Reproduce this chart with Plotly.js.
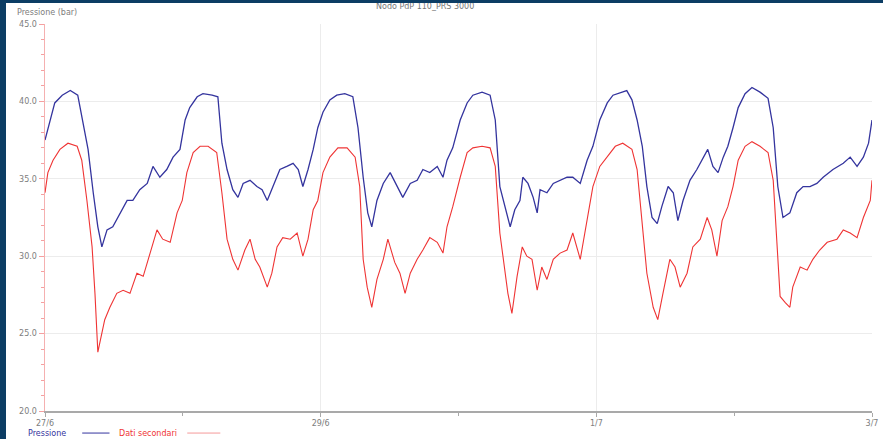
<!DOCTYPE html>
<html>
<head>
<meta charset="utf-8">
<script src="https://cdn.plot.ly/plotly-3.0.1.min.js"></script>
<style>
  html, body { margin:0; padding:0; width:883px; height:439px; overflow:hidden; background:#0c3d64; }
  #frame { position:absolute; left:6px; top:3px; width:877px; height:436px; background:#ffffff; }
  #chart { width:877px; height:436px; }
</style>
</head>
<body>
<div id="frame"><div id="chart"></div></div>
<script>
// Hours since 27/6 00:00
const pressureHours = [0,0.9,1.7,3.0,4.4,5.7,6.6,7.5,8.4,9.2,9.9,10.8,11.8,13.1,14.3,15.3,16.5,17.8,18.8,20.0,21.2,22.3,23.5,24.4,25.2,26.5,27.5,29.1,30.1,30.8,31.7,32.7,33.6,34.5,35.7,36.9,37.8,38.7,39.7,40.9,42.1,43.2,44.1,44.9,45.8,46.7,47.5,48.4,49.6,50.8,52.2,53.6,54.5,55.4,56.2,56.9,57.8,58.9,60.1,61.3,62.3,63.6,64.8,65.8,67.0,68.3,69.3,70.0,71.0,72.3,73.5,74.5,76.1,77.5,78.4,79.2,80.1,81.0,81.8,82.7,83.2,84.1,85.0,85.7,86.2,87.4,88.5,89.7,90.9,91.9,93.2,94.4,95.4,96.6,97.9,98.9,100.5,101.3,102.2,103.1,104.0,104.8,105.7,106.6,107.4,108.5,109.4,110.2,111.1,112.3,113.5,114.6,115.4,116.3,117.2,118.1,118.9,119.8,120.7,121.9,123.1,124.5,125.9,126.8,127.6,128.5,129.7,130.9,132.0,133.2,134.4,135.5,137.2,139.0,140.2,141.4,142.5,143.4,144.0];
const pressureValues = [37.5,38.8,39.9,40.4,40.7,40.4,38.7,36.9,34.1,31.9,30.6,31.7,31.9,32.8,33.6,33.6,34.3,34.7,35.8,35.1,35.6,36.4,36.9,38.8,39.6,40.3,40.5,40.4,40.3,37.3,35.6,34.3,33.8,34.7,34.9,34.5,34.3,33.6,34.5,35.6,35.8,36.0,35.6,34.5,35.6,36.9,38.3,39.3,40.1,40.4,40.5,40.3,38.3,35.1,32.8,31.9,33.6,34.7,35.4,34.5,33.8,34.7,34.9,35.6,35.4,35.8,35.1,36.2,37.0,38.8,39.9,40.4,40.6,40.4,38.8,34.5,33.2,31.9,33.0,33.6,35.1,34.7,33.8,32.8,34.3,34.1,34.7,34.9,35.1,35.1,34.7,36.2,37.1,38.8,39.9,40.4,40.6,40.7,40.1,38.8,37.1,34.5,32.5,32.1,33.2,34.5,34.1,32.3,33.6,34.9,35.6,36.4,36.9,35.8,35.4,36.4,37.1,38.3,39.6,40.5,40.9,40.6,40.2,38.3,34.5,32.5,32.8,34.1,34.5,34.5,34.7,35.1,35.6,36.0,36.4,35.8,36.4,37.3,38.8];

const secondaryHours = [0,0.5,1.4,2.6,4.0,5.6,6.4,7.3,8.2,8.7,9.2,9.9,10.4,11.3,12.5,13.6,14.8,16.0,17.1,18.3,19.5,20.5,21.8,23.0,23.9,24.7,25.8,27.0,28.4,29.9,30.8,31.7,32.7,33.6,34.8,35.7,36.6,37.4,38.7,39.5,40.4,41.4,42.7,43.9,44.9,45.8,46.7,47.5,48.4,49.6,51.0,52.6,54.0,54.8,55.4,56.1,56.9,57.8,58.9,59.7,60.9,61.8,62.7,63.6,64.8,65.8,67.0,68.3,69.3,70.0,71.0,72.3,73.5,74.5,76.1,77.5,78.4,79.2,80.1,80.6,81.3,82.2,83.1,83.9,84.8,85.7,86.5,87.4,88.5,89.7,90.9,91.9,93.2,94.4,95.4,96.6,97.9,99.3,100.6,102.2,103.1,104.0,104.8,105.9,106.7,107.6,108.8,109.7,110.6,111.8,112.8,114.1,115.3,116.1,117.0,117.9,118.9,119.8,120.7,121.9,123.1,124.5,125.9,126.8,127.5,128.0,128.9,129.7,130.2,131.5,132.7,133.7,134.9,136.2,137.9,139.0,140.2,141.4,142.5,143.7,144.0];
const secondaryValues = [34.1,35.4,36.2,36.9,37.3,37.1,36.2,33.6,30.6,27.6,23.8,25.0,25.9,26.7,27.6,27.8,27.6,28.9,28.7,30.2,31.7,31.1,30.9,32.8,33.6,35.4,36.7,37.1,37.1,36.7,34.1,31.1,29.8,29.1,30.4,31.1,29.8,29.3,28.0,28.9,30.6,31.2,31.1,31.5,30.0,31.1,33.0,33.6,35.4,36.4,37.0,37.0,36.4,34.5,29.8,28.0,26.7,28.5,29.8,31.1,29.6,28.9,27.6,28.9,29.8,30.4,31.2,30.9,30.2,31.9,33.2,35.1,36.7,37.0,37.1,37.0,35.8,31.5,28.9,27.6,26.3,28.7,30.6,30.0,29.8,27.8,29.3,28.5,29.8,30.2,30.4,31.5,29.8,32.3,34.5,35.8,36.4,37.1,37.3,36.9,35.6,32.3,28.9,26.7,25.9,27.6,29.8,29.3,28.0,28.9,30.6,31.1,32.5,31.7,30.0,32.3,33.2,34.5,36.2,37.1,37.4,37.1,36.7,34.9,30.6,27.4,27.0,26.7,28.0,29.3,29.1,29.8,30.4,30.9,31.1,31.7,31.5,31.2,32.5,33.6,34.9];

const xTickVals = [0, 48, 96, 144];
const xTickText = ["27/6", "29/6", "1/7", "3/7"];
const xMinorVals = [24, 72, 120];
const yTickVals = [20, 25, 30, 35, 40, 45];

const chartTitle = "Nodo PdP 110_PRS 3000";
const yTitle = "Pressione (bar)";
const seriesNames = ["Pressione", "Dati secondari"];
const seriesColors = ["#34349e", "#ef3434"];

const traces = [
  { x: pressureHours, y: pressureValues, type: "scatter", mode: "lines", name: seriesNames[0],
    line: { color: seriesColors[0], width: 1.3 } },
  { x: secondaryHours, y: secondaryValues, type: "scatter", mode: "lines", name: seriesNames[1],
    line: { color: seriesColors[1], width: 1.1 } }
];

const tickFont = { family: "DejaVu Sans, sans-serif", size: 8, color: "#7d7d7d" };

const layout = {
  width: 877, height: 436,
  margin: { l: 39, r: 11, t: 21, b: 28 },
  paper_bgcolor: "#ffffff", plot_bgcolor: "#ffffff",
  showlegend: false,
  xaxis: {
    range: [0, 144], tickmode: "array", tickvals: xTickVals, ticktext: xTickText,
    showgrid: true, gridcolor: "#ececec", gridwidth: 1,
    showline: true, linecolor: "#a9a9a9", linewidth: 1.5,
    ticks: "outside", ticklen: 4, tickcolor: "#a9a9a9",
    tickfont: tickFont, zeroline: false,
    minor: { tickmode: "array", tickvals: xMinorVals, ticks: "outside", ticklen: 3, tickcolor: "#a9a9a9", showgrid: false }
  },
  yaxis: {
    range: [20, 45], tickmode: "array", tickvals: yTickVals, tickformat: ".1f",
    showgrid: true, gridcolor: "#ececec", gridwidth: 1,
    showline: true, linecolor: "#f5b0b0", linewidth: 1.5,
    ticks: "outside", ticklen: 5, tickcolor: "#f5a0a0",
    tickfont: tickFont, zeroline: false,
    minor: { dtick: 1, ticks: "outside", ticklen: 3, tickcolor: "#f5a0a0", showgrid: false }
  },
  annotations: [
    { xref: "paper", yref: "paper", x: 0.46, y: 1.0, yshift: 18, xanchor: "center", yanchor: "middle",
      text: chartTitle, showarrow: false, font: { family: "DejaVu Sans, sans-serif", size: 8, color: "#777" } },
    { xref: "paper", yref: "paper", x: 0, xshift: -30, y: 1.0, yshift: 12, xanchor: "left", yanchor: "middle",
      text: yTitle, showarrow: false, font: { family: "DejaVu Sans, sans-serif", size: 8, color: "#7d7d7d" } },
    { xref: "paper", yref: "paper", x: 0, xshift: -19, y: 0, yshift: -22, xanchor: "left", yanchor: "middle",
      text: seriesNames[0], showarrow: false, font: { family: "DejaVu Sans, sans-serif", size: 8, color: seriesColors[0] } },
    { xref: "paper", yref: "paper", x: 0, xshift: 72, y: 0, yshift: -22, xanchor: "left", yanchor: "middle",
      text: seriesNames[1], showarrow: false, font: { family: "DejaVu Sans, sans-serif", size: 8, color: seriesColors[1] } }
  ],
  shapes: [
    { type: "line", xref: "paper", yref: "paper", x0: 0.045, x1: 0.078, y0: -0.057, y1: -0.057,
      line: { color: seriesColors[0], width: 1 } },
    { type: "line", xref: "paper", yref: "paper", x0: 0.172, x1: 0.212, y0: -0.057, y1: -0.057,
      line: { color: "#f59a9a", width: 1 } }
  ]
};

Plotly.newPlot("chart", traces, layout, { displayModeBar: false, staticPlot: true });
</script>
</body>
</html>
